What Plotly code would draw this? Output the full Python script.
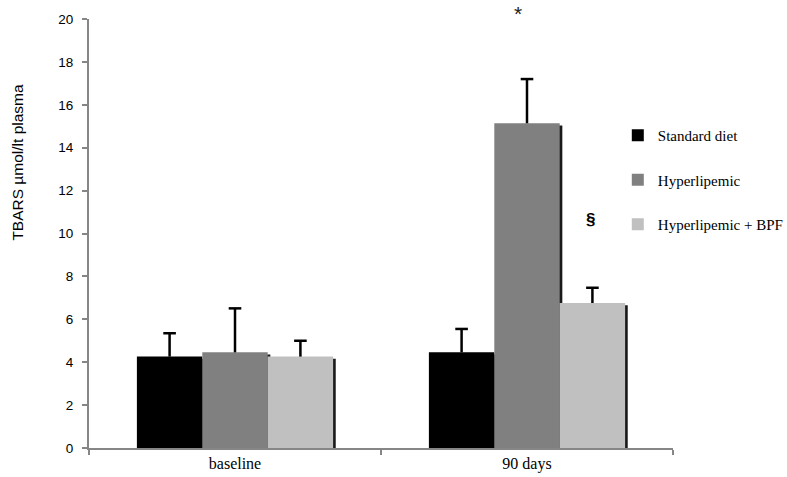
import plotly.graph_objects as go

categories = ["baseline", "90 days"]
series_names = ["Standard diet", "Hyperlipemic", "Hyperlipemic + BPF"]
standard_diet = [4.26, 4.46]
standard_diet_err = [1.09, 1.09]
hyperlipemic = [4.46, 15.14]
hyperlipemic_err = [2.05, 2.06]
hyper_bpf = [4.26, 6.76]
hyper_bpf_err = [0.74, 0.71]
y_ticks = [0, 2, 4, 6, 8, 10, 12, 14, 16, 18, 20]

values = [standard_diet, hyperlipemic, hyper_bpf]
errors = [standard_diet_err, hyperlipemic_err, hyper_bpf_err]
colors = ["#000000", "#808080", "#c0c0c0"]

bar_w = 0.224
offsets = [-0.336, -0.112, 0.112]
axis_col = "#868686"

fig = go.Figure()

# drop shadows (drawn first, behind the bars)
for vals, off in zip(values, offsets):
    fig.add_trace(go.Bar(
        x=categories, y=vals, base=[-0.1] * len(vals),
        offset=off + 0.009, width=bar_w,
        marker=dict(color="#1a1a1a", line=dict(width=0)),
        showlegend=False, hoverinfo="skip"))

for i, (name, vals, errs, col, off) in enumerate(zip(series_names, values, errors, colors, offsets)):
    fig.add_trace(go.Bar(
        x=categories, y=vals, name=name,
        offset=off, width=bar_w,
        marker=dict(color=col, line=dict(width=0)),
        error_y=dict(type="data", array=errs, arrayminus=[0] * len(errs),
                     symmetric=False, color="#000000", thickness=2.5, width=0),
        legendgroup=f"g{i}"))

# error-bar caps (top only) on a hidden linear axis aligned with the category axis
cap_x, cap_y = [], []
for vals, errs, off in zip(values, errors, offsets):
    for k, (v, e) in enumerate(zip(vals, errs)):
        cap_x.append(k + off + bar_w / 2)
        cap_y.append(v + e)
fig.add_trace(go.Scatter(
    x=cap_x, y=cap_y, xaxis="x2", mode="markers",
    marker=dict(symbol="line-ew-open", size=9, color="#000000",
                line=dict(width=2.5, color="#000000")),
    showlegend=False, hoverinfo="skip"))

fig.add_annotation(x=1 - 0.03, y=1.045, xref="x", yref="paper", text="*",
                   showarrow=False, font=dict(family="Liberation Sans", size=21, color="#222222"))
fig.add_annotation(x=1 + 0.218, y=10.65, xref="x", yref="y", text="<b>§</b>",
                   showarrow=False, font=dict(family="Liberation Sans", size=17, color="#000000"))
fig.add_annotation(x=-0.122, y=0.667, xref="paper", yref="paper", text="TBARS µmol/lt plasma",
                   textangle=-90, showarrow=False, xanchor="center", yanchor="middle",
                   font=dict(family="Liberation Sans", size=15.5, color="#000000"))

fig.update_layout(
    width=787, height=477,
    margin=dict(l=89, r=114, t=19, b=29, autoexpand=False),
    paper_bgcolor="white", plot_bgcolor="white",
    barmode="overlay",
    showlegend=True,
    legend=dict(x=0.785, y=0.7505, xref="container", yref="container",
                xanchor="left", yanchor="top",
                traceorder="grouped", tracegroupgap=22, itemwidth=30,
                font=dict(family="Liberation Serif", size=15, color="#000000"),
                bgcolor="rgba(0,0,0,0)"),
    xaxis=dict(type="category", range=[-0.5, 1.5], showline=True, linecolor=axis_col, linewidth=2,
               ticks="outside", tickson="boundaries", ticklen=5, tickwidth=2, tickcolor=axis_col,
               showgrid=False, zeroline=False,
               tickfont=dict(family="Liberation Serif", size=16, color="#000000")),
    xaxis2=dict(overlaying="x", range=[-0.5, 1.5], visible=False),
    yaxis=dict(range=[0, 20], tickvals=y_ticks, showline=True, linecolor=axis_col, linewidth=2,
               ticks="outside", ticklen=5, tickwidth=2, tickcolor=axis_col,
               ticklabelstandoff=6,
               showgrid=False, zeroline=False,
               tickfont=dict(family="Liberation Sans", size=13.5, color="#000000")),
)

fig.write_html("out.html", config={"displayModeBar": False},
               post_script="document.body.style.margin='0px';document.body.style.overflow='hidden';")
